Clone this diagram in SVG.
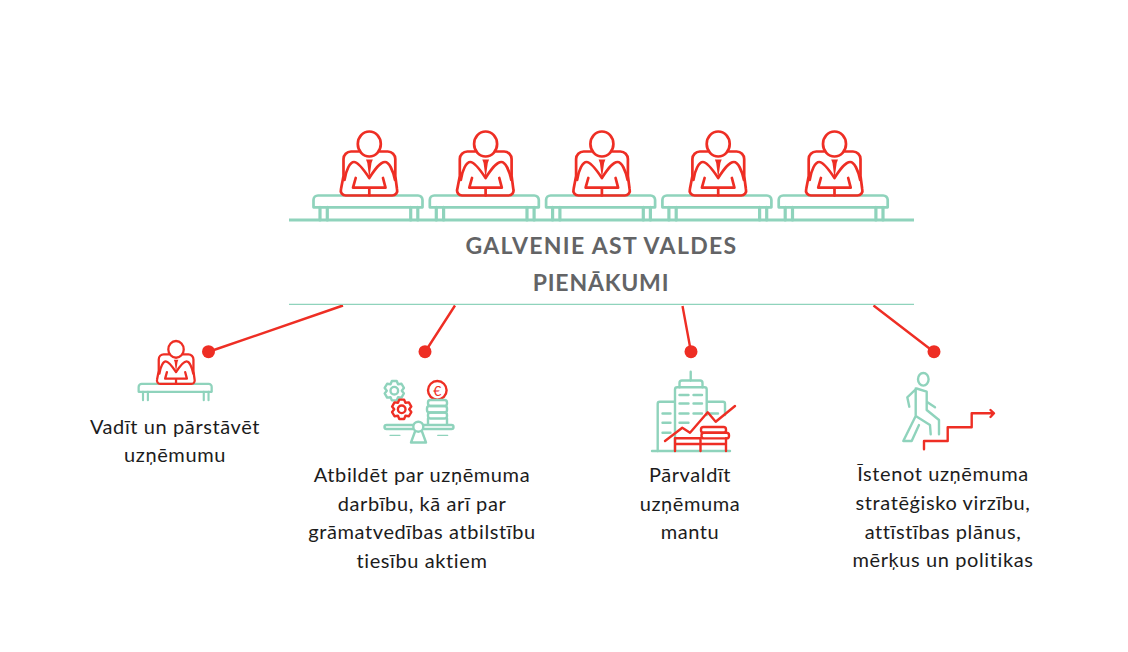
<svg xmlns="http://www.w3.org/2000/svg" xmlns:xlink="http://www.w3.org/1999/xlink" width="1128" height="652" viewBox="0 0 1128 652">
<style>
.t{stroke:#8fd3bc;fill:none;stroke-linejoin:round;stroke-linecap:round}
.r{stroke:#ee2e24;fill:none;stroke-linejoin:round;stroke-linecap:round}
.lb{font-family:"Lato","Liberation Sans",sans-serif;font-size:20px;fill:#1c1c1c;text-anchor:middle;letter-spacing:.6px}
.ti{font-family:"Lato","Liberation Sans",sans-serif;font-size:23px;font-weight:700;fill:#636466;text-anchor:middle;letter-spacing:1.35px}
.lk{stroke:#ee2e24;stroke-width:2.400;fill:none}
.dot{fill:#ee2e24}
</style>
<defs>
<g id="person">
<path class="t" d="M313.500 207.300V200a4.500 4.500 0 0 1 4.500-4.500H418a4.500 4.500 0 0 1 4.500 4.500v7.300z"/>
<path class="t" d="M320 207.300V220M327.300 207.300V220M410.700 207.300V220M417.800 207.300V220" stroke-linecap="butt" style="stroke-width:3.200"/>
<ellipse class="r" cx="369.300" cy="144" rx="11.500" ry="12.500"/>
<path class="r" d="M358.500 151.500H351a7.500 7.500 0 0 0-7.500 7.500V176L341 189a5 5 0 0 0 5 6.500H392a5 5 0 0 0 5-6.500L395.300 176V159a7.500 7.500 0 0 0-7.500-7.500H380"/>
<path class="r" d="M344.500 180C346 170 350 162 354 162C358 162 364 170 369.300 178C374.500 170 380 162 385 162C389 162 393 170 395 180"/>
<path class="r" d="M355.700 178L353 187.700H385.500L383 178M369.300 187.700V195.500"/>
<path d="M366 159.500H372.800L371.500 163L369.300 178.500L367.300 163z" fill="#ee2e24"/>
</g>
<path id="gear" d="M-2.420-9.700L2.420-9.700L3.750-6.500L7.190-6.950L9.610-2.760L7.500 0L9.610 2.760L7.190 6.950L3.750 6.500L2.420 9.700L-2.420 9.700L-3.750 6.500L-7.190 6.950L-9.610 2.760L-7.500 0L-9.610-2.760L-7.190-6.950L-3.750-6.500z"/>
</defs>
<g id="connectors">
<path class="lk" d="M343 305.500L208 352M455 305.500L425 352M682.500 306L691 352M873.500 305.500L934 352"/>
<path d="M289 220H914" stroke="#8fd3bc" stroke-width="3" fill="none"/>
<path d="M289 304.300H914" stroke="#8fd3bc" stroke-width="1.200" fill="none"/>
<circle class="dot" cx="208.500" cy="351.700" r="6.500"/>
<circle class="dot" cx="425" cy="351.700" r="6.500"/>
<circle class="dot" cx="691" cy="351.700" r="6.500"/>
<circle class="dot" cx="934" cy="351.700" r="6.500"/>
</g>
<g id="board-1" stroke-width="2.700"><use href="#person" xlink:href="#person"/></g>
<g id="board-2" stroke-width="2.700"><use href="#person" xlink:href="#person" x="116.300"/></g>
<g id="board-3" stroke-width="2.700"><use href="#person" xlink:href="#person" x="232.600"/></g>
<g id="board-4" stroke-width="2.700"><use href="#person" xlink:href="#person" x="348.900"/></g>
<g id="board-5" stroke-width="2.700"><use href="#person" xlink:href="#person" x="465.200"/></g>
<g id="title">
<text class="ti" x="601.500" y="254">GALVENIE AST VALDES</text>
<text class="ti" x="601" y="291" style="letter-spacing:.8px">PIENĀKUMI</text>
</g>
<g id="item-1">
<use href="#person" xlink:href="#person" stroke-width="3.400" transform="translate(-71.400 252.900) scale(.67)"/>
<text class="lb" x="175" y="433.500">Vadīt un pārstāvēt</text>
<text class="lb" x="175" y="461.500">uzņēmumu</text>
</g>
<g id="item-2" stroke-width="2.400">
<use href="#gear" xlink:href="#gear" class="t" x="394.300" y="390.700"/>
<circle class="t" cx="394.300" cy="390.700" r="3.800"/>
<use href="#gear" xlink:href="#gear" class="r" x="401.700" y="409.300"/>
<circle class="r" cx="401.700" cy="409.300" r="3.800"/>
<circle class="r" cx="437.300" cy="390.300" r="9.300"/>
<text x="437.300" y="395.500" font-family="Lato,'Liberation Sans',sans-serif" font-size="14" fill="#ee2e24" text-anchor="middle" stroke="none">€</text>
<rect class="t" x="428" y="400" width="19" height="6" rx="2.500"/>
<rect class="t" x="427" y="406" width="20" height="6.500" rx="2.500"/>
<rect class="t" x="428" y="412.500" width="19" height="6" rx="2.500"/>
<path class="t" d="M428 424V418.500M447 418.500V424"/>
<rect class="t" x="384.500" y="425" width="69" height="4" rx="2"/>
<circle cx="418.300" cy="426.700" r="5" fill="#fff" stroke="#8fd3bc"/>
<path class="t" d="M415 431.500L411 442.500H426L422 431.500"/>
<path class="t" stroke-width="1.300" d="M390 435.300H400M437.700 435.300H447.700"/>
<text class="lb" stroke="none" x="422" y="481.500">Atbildēt par uzņēmuma</text>
<text class="lb" stroke="none" x="422" y="510.500">darbību, kā arī par</text>
<text class="lb" stroke="none" x="422" y="538.500">grāmatvedības atbilstību</text>
<text class="lb" stroke="none" x="422" y="567.500">tiesību aktiem</text>
</g>
<g id="item-3" stroke-width="2.400">
<path class="t" d="M690.700 371.700V380.700M679.500 387.300V383a2.500 2.500 0 0 1 2.500-2.500H700a2.500 2.500 0 0 1 2.500 2.500V387.300"/>
<path class="t" d="M675 451V389.500a2.200 2.200 0 0 1 2.200-2.200H704.500a2.200 2.200 0 0 1 2.200 2.200V415M657.700 451V403.700a2 2 0 0 1 2-2H675M706.700 401.700H723a2 2 0 0 1 2 2V415"/>
<path class="t" d="M652 451H730"/>
<path class="t" stroke-linecap="butt" d="M679.500 395H688.500M693.500 395H702M679.500 403.500H688.500M693.500 403.500H702M679.500 413.500H688.500M693.500 413.500H702M679.500 422.700H688.500M662.500 413.500H670.500M662.500 422.700H670.500M662.500 432.700H670.500M708.500 413.500H718"/>
<path class="r" d="M665 441L682.300 427.700L690 432.700L707.700 412.300L715.700 421.700L735 406"/>
<path class="r" d="M675 451V438.300H700.500M675 444H726M700.500 451V438.300M726 451V438.300"/>
<rect class="r" x="701" y="427" width="25" height="5.700" rx="2.500" fill="#fff"/>
<rect class="r" x="701.500" y="432.700" width="27.500" height="5.700" rx="2.500" fill="#fff"/>
<text class="lb" stroke="none" x="690" y="481.500">Pārvaldīt</text>
<text class="lb" stroke="none" x="690" y="510.500">uzņēmuma</text>
<text class="lb" stroke="none" x="690" y="538.500">mantu</text>
</g>
<g id="item-4" stroke-width="2.400">
<ellipse class="t" cx="923.300" cy="379.300" rx="5.300" ry="6.300"/>
<path class="t" d="M909.300 406.700L907.300 397.300L916.500 388.500L926.700 391.700V410L939 420V434.300M926.700 401.700L935 407.300M915.700 388.500V416L930 425L930.700 434.300M915.700 416L903.300 441H911.700L919 425"/>
<path class="r" d="M924 449.300V441H947.700V427.300H971.700V413.300H993.500M990.500 410L994 413.300L990.500 417"/>
<text class="lb" stroke="none" x="943" y="480.500">Īstenot uzņēmuma</text>
<text class="lb" stroke="none" x="943" y="509.500">stratēģisko virzību,</text>
<text class="lb" stroke="none" x="943" y="538.500">attīstības plānus,</text>
<text class="lb" stroke="none" x="943" y="566.500">mērķus un politikas</text>
</g>
</svg>
